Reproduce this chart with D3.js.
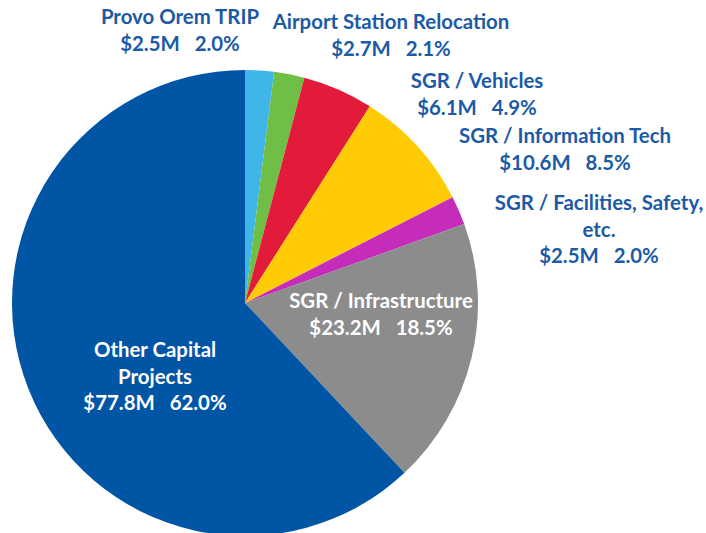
<!DOCTYPE html>
<html lang="en">
<head>
    <meta charset="UTF-8">
    <title>Capital Budget Pie</title>
    <script src="https://d3js.org/d3.v7.min.js"></script>
    <style>
        body { margin: 0; background: #fff; }
        .label {
            font-family: Lato, "Open Sans", sans-serif;
            font-weight: bold;
            font-size: 20.4px;
        }
    </style>
</head>
<body>

<svg width="706" height="533"></svg>

<script>
    const width = 706;
    const height = 533;

    // Slice data, clockwise from 12 o'clock
    const names = ["Provo Orem TRIP", "Airport Station Relocation", "SGR / Vehicles",
        "SGR / Information Tech", "SGR / Facilities, Safety, etc.", "SGR / Infrastructure",
        "Other Capital Projects"];
    const amounts = [2.5, 2.7, 6.1, 10.6, 2.5, 23.2, 77.8];   // $M
    const shares = [2.0, 2.1, 4.9, 8.5, 2.0, 18.5, 62.0];      // %
    const colors = ["#3fb6e7", "#6fbe46", "#e31b3a", "#ffcb05", "#c42cb9", "#8c8c8c", "#0055a4"];

    // label lines and where they sit
    const labelLines = [
        ["Provo Orem TRIP"],
        ["Airport Station Relocation"],
        ["SGR / Vehicles"],
        ["SGR / Information Tech"],
        ["SGR / Facilities, Safety,", "etc."],
        ["SGR / Infrastructure"],
        ["Other Capital", "Projects"]
    ];
    const labelPos = [[180, 24], [391, 29], [477, 88], [565, 143], [599, 210], [381, 308], [155, 357]];
    const labelFill = ["#1c5aa6", "#1c5aa6", "#1c5aa6", "#1c5aa6", "#1c5aa6", "#ffffff", "#ffffff"];

    const cx = 245, cy = 303, r = 233;

    const data = names.map((n, i) => ({ name: n, amount: amounts[i], share: shares[i], color: colors[i] }));

    const svg = d3.select("svg");
    const g = svg.append("g").attr("transform", `translate(${cx},${cy})`);

    const pie = d3.pie().value(d => d.share).sort(null);
    const arc = d3.arc().innerRadius(0).outerRadius(r);

    g.selectAll("path")
        .data(pie(data))
        .enter()
        .append("path")
        .attr("d", arc)
        .attr("fill", d => d.data.color);

    const lineH = 26.5;
    const labels = svg.selectAll(".label")
        .data(data)
        .enter()
        .append("text")
        .attr("class", "label")
        .attr("text-anchor", "middle")
        .attr("fill", (d, i) => labelFill[i])
        .attr("transform", (d, i) => `translate(${labelPos[i][0]},${labelPos[i][1]})`);

    labels.each(function(d, i) {
        const t = d3.select(this);
        const lines = labelLines[i].concat([`$${d.amount.toFixed(1)}M\u00a0\u00a0\u00a0${d.share.toFixed(1)}%`]);
        lines.forEach((l, k) => {
            t.append("tspan").attr("x", 0).attr("y", k * lineH).text(l);
        });
    });
</script>

</body>
</html>
